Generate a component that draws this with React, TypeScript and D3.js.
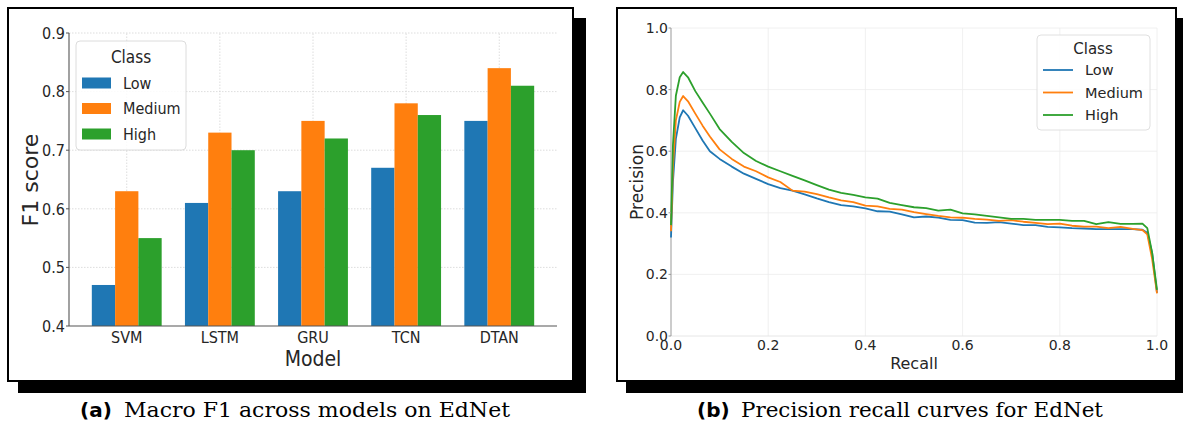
import React from "react";
import * as d3 from "d3";

// ---- Panel (a) data ----
const models = ["SVM", "LSTM", "GRU", "TCN", "DTAN"];
const classes = ["Low", "Medium", "High"];
const f1Low = [0.47, 0.61, 0.63, 0.67, 0.75];
const f1Medium = [0.63, 0.73, 0.75, 0.78, 0.84];
const f1High = [0.55, 0.7, 0.72, 0.76, 0.81];
const f1Ticks = [0.4, 0.5, 0.6, 0.7, 0.8, 0.9];

// ---- Panel (b) data ----
const recall = [
  0, 0.004, 0.01, 0.018, 0.025, 0.035, 0.05, 0.065, 0.08, 0.1, 0.125, 0.15, 0.175, 0.2, 0.225, 0.25,
  0.275, 0.3, 0.325, 0.35, 0.375, 0.4, 0.425, 0.45, 0.475, 0.5, 0.525, 0.55, 0.575, 0.6, 0.625, 0.65,
  0.675, 0.7, 0.725, 0.75, 0.775, 0.8, 0.825, 0.85, 0.875, 0.9, 0.925, 0.95, 0.97, 0.98, 0.99, 1.0,
];
const precLow = [
  0.32, 0.5, 0.64, 0.71, 0.733, 0.715, 0.675, 0.635, 0.6, 0.575, 0.55, 0.527, 0.51, 0.493, 0.48, 0.472,
  0.46, 0.447, 0.435, 0.425, 0.421, 0.414, 0.405, 0.404, 0.395, 0.385, 0.388, 0.384, 0.377, 0.376, 0.368, 0.367,
  0.37, 0.365, 0.36, 0.36, 0.354, 0.353, 0.35, 0.349, 0.347, 0.347, 0.347, 0.347, 0.345, 0.335, 0.27, 0.14,
];
const precMedium = [
  0.34, 0.55, 0.7, 0.76, 0.779, 0.762, 0.722, 0.683, 0.648, 0.606, 0.575, 0.55, 0.535, 0.515, 0.5, 0.472,
  0.469, 0.461, 0.45, 0.44, 0.435, 0.423, 0.421, 0.413, 0.41, 0.402, 0.396, 0.39, 0.385, 0.384, 0.38, 0.378,
  0.374, 0.376, 0.371, 0.367, 0.363, 0.365, 0.358, 0.355, 0.355, 0.35, 0.354, 0.348, 0.344, 0.33, 0.25, 0.138,
];
const precHigh = [
  0.36, 0.62, 0.78, 0.84, 0.857, 0.84, 0.795, 0.758, 0.722, 0.672, 0.63, 0.594, 0.568, 0.55, 0.535, 0.52,
  0.505, 0.49, 0.475, 0.465, 0.458, 0.45, 0.446, 0.432, 0.425, 0.418, 0.415, 0.407, 0.41, 0.398, 0.395, 0.39,
  0.385, 0.38, 0.38, 0.377, 0.377, 0.377, 0.374, 0.374, 0.363, 0.37, 0.364, 0.364, 0.365, 0.35, 0.27, 0.15,
];
const prTicks = [0, 0.2, 0.4, 0.6, 0.8, 1.0];

const colors = ["#1f77b4", "#ff7f0e", "#2ca02c"];
const COND = "'DejaVu Sans Condensed', 'DejaVu Sans', sans-serif";
const SANS = "'DejaVu Sans', sans-serif";
const TXT = "#262626";

export default function App() {
  // Panel (a) scales
  const xL = d3.scaleLinear().domain([-0.62, 4.62]).range([69, 557]);
  const yL = d3.scaleLinear().domain([0.4, 0.9]).range([326, 33]);
  const barW = 0.25;
  const unit = xL(1) - xL(0);
  const seriesF1 = [f1Low, f1Medium, f1High];

  // Panel (b) scales
  const xR = d3.scaleLinear().domain([0, 1]).range([671, 1157]);
  const yR = d3.scaleLinear().domain([0, 1]).range([336, 28]);
  const seriesPR = [precLow, precMedium, precHigh];
  const line = d3
    .line<number>()
    .x((_, i) => xR(recall[i]))
    .y((d) => yR(d));

  return (
    <svg
      width={1183}
      height={430}
      style={{ position: "absolute", left: 0, top: 0, background: "#fff" }}
    >
      {/* Frames with shadows */}
      <rect x={18} y={18} width={568} height={375} fill="#000" />
      <rect x={8} y={8} width={565} height={373} fill="#fff" stroke="#000" strokeWidth={2} />
      <rect x={626} y={18} width={570} height={375} fill="#000" />
      <rect x={617} y={8} width={559} height={373} fill="#fff" stroke="#000" strokeWidth={2} />

      {/* ---------- Panel (a) ---------- */}
      <g>
        {f1Ticks.slice(1).map((t) => (
          <line key={"gh" + t} x1={xL(-0.62)} x2={xL(4.62)} y1={yL(t)} y2={yL(t)} stroke="#d4d4d4" strokeWidth={0.8} strokeDasharray="1.5,1.5" />
        ))}
        {models.map((m, i) => (
          <line key={"gv" + m} x1={xL(i)} x2={xL(i)} y1={yL(0.4)} y2={yL(0.9)} stroke="#d4d4d4" strokeWidth={0.8} strokeDasharray="1.5,1.5" />
        ))}
        {seriesF1.map((vals, s) =>
          vals.map((v, i) => (
            <rect
              key={"b" + s + "-" + i}
              x={xL(i + (s - 1) * barW - barW / 2)}
              y={yL(v)}
              width={barW * unit}
              height={yL(0.4) - yL(v)}
              fill={colors[s]}
            />
          ))
        )}
        <line x1={xL(-0.62)} x2={xL(-0.62)} y1={yL(0.4)} y2={yL(0.9)} stroke="#555" strokeWidth={1.1} />
        <line x1={xL(-0.62)} x2={xL(4.62)} y1={yL(0.4)} y2={yL(0.4)} stroke="#555" strokeWidth={1.1} />
        {f1Ticks.map((t) => (
          <g key={"yt" + t}>
            <line x1={xL(-0.62)} x2={xL(-0.62) - 3} y1={yL(t)} y2={yL(t)} stroke="#555" />
            <text x={65} y={yL(t)} dy="0.36em" textAnchor="end" fontFamily={COND} fontSize={16} fill={TXT}>
              {t.toFixed(1)}
            </text>
          </g>
        ))}
        {models.map((m, i) => (
          <text key={"xt" + m} x={xL(i)} y={343} textAnchor="middle" fontFamily={COND} fontSize={16} fill={TXT}>
            {m}
          </text>
        ))}
        <text x={xL(2)} y={366} textAnchor="middle" fontFamily={COND} fontSize={21} fill={TXT}>
          Model
        </text>
        <text transform="translate(38,180) rotate(-90)" textAnchor="middle" fontFamily={SANS} fontSize={22} fill={TXT}>
          F1 score
        </text>
        {/* legend */}
        <rect x={76} y={41} width={110} height={109} rx={4} fill="#fff" fillOpacity={0.85} stroke="#dcdcdc" />
        <text x={131} y={63} textAnchor="middle" fontFamily={COND} fontSize={17} fill={TXT}>
          Class
        </text>
        {classes.map((c, s) => (
          <g key={"lg" + c}>
            <rect x={82} y={77.5 + s * 25.5} width={29} height={11} fill={colors[s]} />
            <text x={123} y={83 + s * 25.5} dy="0.36em" fontFamily={COND} fontSize={16} fill={TXT}>
              {c}
            </text>
          </g>
        ))}
      </g>

      {/* ---------- Panel (b) ---------- */}
      <g>
        {prTicks.slice(1).map((t) => (
          <line key={"rgh" + t} x1={xR(0)} x2={xR(1)} y1={yR(t)} y2={yR(t)} stroke="#ececec" strokeWidth={0.8} />
        ))}
        {prTicks.slice(1).map((t) => (
          <line key={"rgv" + t} x1={xR(t)} x2={xR(t)} y1={yR(0)} y2={yR(1)} stroke="#ececec" strokeWidth={0.8} />
        ))}
        <line x1={xR(0)} x2={xR(1)} y1={yR(0)} y2={yR(0)} stroke="#e6e6e6" strokeWidth={1} />
        <line x1={xR(0)} x2={xR(0)} y1={yR(0)} y2={yR(1)} stroke="#999" strokeWidth={1} />
        {seriesPR.map((vals, s) => (
          <path key={"pr" + s} d={line(vals) || ""} fill="none" stroke={colors[s]} strokeWidth={1.8} strokeLinejoin="round" />
        ))}
        {prTicks.map((t) => (
          <g key={"ryt" + t}>
            <line x1={xR(0)} x2={xR(0) - 2.5} y1={yR(t)} y2={yR(t)} stroke="#999" />
            <text x={668} y={yR(t)} dy="0.36em" textAnchor="end" fontFamily={SANS} fontSize={14} fill={TXT}>
              {t.toFixed(1)}
            </text>
          </g>
        ))}
        {prTicks.map((t) => (
          <text key={"rxt" + t} x={xR(t)} y={350} textAnchor="middle" fontFamily={SANS} fontSize={14} fill={TXT}>
            {t.toFixed(1)}
          </text>
        ))}
        <text x={xR(0.5)} y={369} textAnchor="middle" fontFamily={SANS} fontSize={16} fill={TXT}>
          Recall
        </text>
        <text transform={`translate(643,${(yR(0) + yR(1)) / 2}) rotate(-90)`} textAnchor="middle" fontFamily={SANS} fontSize={17} fill={TXT}>
          Precision
        </text>
        {/* legend */}
        <rect x={1037} y={35} width={113} height={95} rx={4} fill="#fff" fillOpacity={0.85} stroke="#e0e0e0" />
        <text x={1093} y={54} textAnchor="middle" fontFamily={SANS} fontSize={15} fill={TXT}>
          Class
        </text>
        {classes.map((c, s) => (
          <g key={"rlg" + c}>
            <line x1={1043} x2={1073} y1={70 + s * 22.5} y2={70 + s * 22.5} stroke={colors[s]} strokeWidth={1.8} />
            <text x={1085} y={70 + s * 22.5} dy="0.36em" fontFamily={SANS} fontSize={14.5} fill={TXT}>
              {c}
            </text>
          </g>
        ))}
      </g>

      {/* Captions */}
      <text x={80} y={417} fontFamily={SANS} fontWeight="bold" fontSize={20} fill="#000">
        (a)
      </text>
      <text x={124} y={417} fontFamily="'DejaVu Serif', serif" fontSize={20} fill="#000" textLength={386} lengthAdjust="spacingAndGlyphs">
        Macro F1 across models on EdNet
      </text>
      <text x={697} y={417} fontFamily={SANS} fontWeight="bold" fontSize={20} fill="#000">
        (b)
      </text>
      <text x={741} y={417} fontFamily="'DejaVu Serif', serif" fontSize={20} fill="#000" textLength={362} lengthAdjust="spacingAndGlyphs">
        Precision recall curves for EdNet
      </text>
    </svg>
  );
}
